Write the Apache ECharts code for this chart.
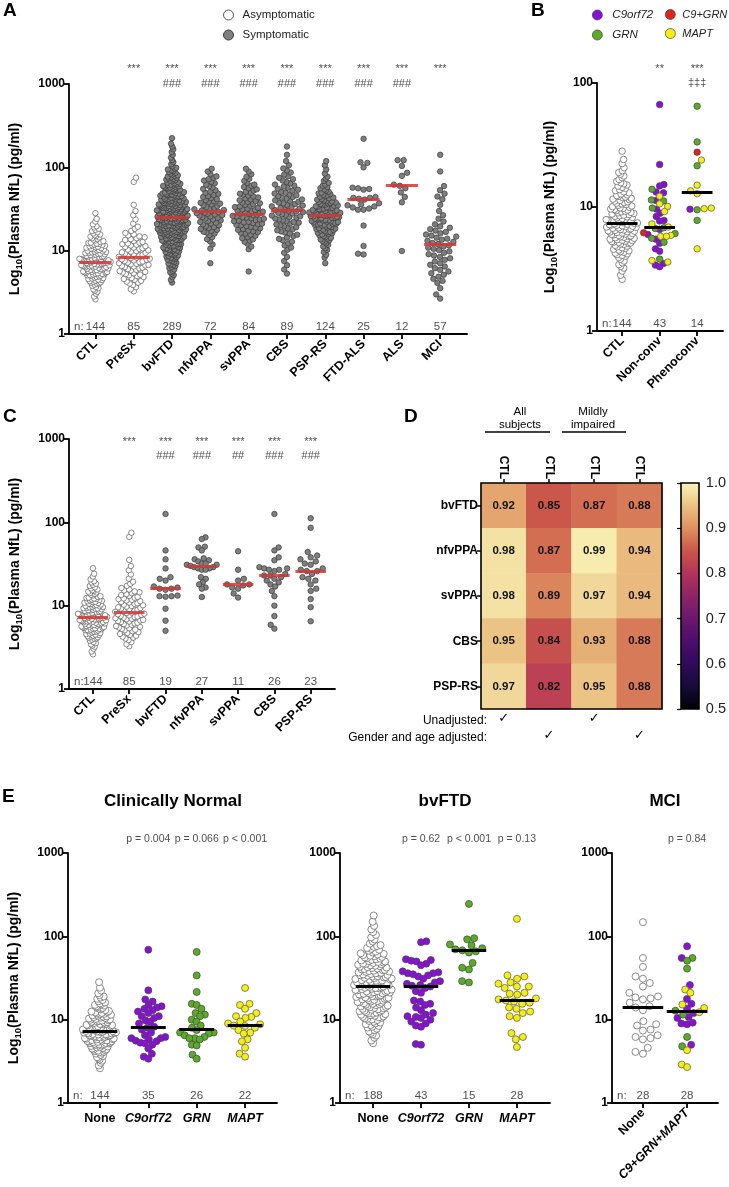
<!DOCTYPE html>
<html><head><meta charset="utf-8">
<script src="https://cdn.jsdelivr.net/npm/echarts@6/dist/echarts.min.js"></script>
<style>html,body{margin:0;padding:0;background:#fff}#c{width:729px;height:1187px}</style>
</head><body><div id="c"></div>
<script>
// ================= DATA =================
// Large groups are given as counts per log10 bin (bin k covers log10 0.4+0.1k .. 0.5+0.1k), read from the swarms.
const HIST_LOG_START = 0.4, HIST_LOG_STEP = 0.1;
const ctlHist    = [3,7,16,26,30,22,18,11,7,3,1];
const presxHist  = [0,4,9,12,15,13,12,9,4,2,2,1,0,0,2];
const bvftdHist  = [0,0,3,6,10,15,20,25,32,33,34,30,26,20,14,10,4,3,3,1];
const nfvppaHist = [0,0,0,0,1,0,2,4,9,10,13,10,8,6,6,3];
const svppaHist  = [0,0,0,1,0,0,3,7,11,14,14,11,9,7,4,3];
const cbsHist    = [0,0,0,2,2,2,4,6,8,10,12,11,10,8,6,4,2,1,1];
const psprsHist  = [0,0,0,0,1,3,5,10,16,22,23,17,12,7,4,2,2];
const mciHist    = [2,1,4,5,5,6,7,8,6,3,2,1,3,2,0,1,0,1];
const ftdalsVals = [220,115,113,100,57,56,55,54,44,43,43,42,41,37,36,35,34,33,32,31,31,20,11.4,9.2,9.0];
const alsVals    = [122,122,104,86,79,62,60,56,50,44,38,9.9];

const aCats  = ['CTL','PreSx','bvFTD','nfvPPA','svPPA','CBS','PSP-RS','FTD-ALS','ALS','MCI'];
const aN     = [144,85,289,72,84,89,124,25,12,57];
const aStars = ['','***','***','***','***','***','***','***','***','***'];
const aHash  = ['','','###','###','###','###','###','###','###',''];

// Panel B
const bCats = ['CTL','Non-conv','Phenoconv'];
const bN = [144,43,14];
const bStars = ['','**','***'];
const bDagger = ['','','‡‡‡'];
const nonconvVals = [67,22,15.2,14.8,13.9,13.2,13.0,12.2,11.4,11.2,11.3,10.6,10.1,9.8,9.6,9.2,8.9,8.4,7.8,7.7,7.3,6.9,6.8,6.7,6.6,6.2,6.1,6.0,5.9,5.8,5.8,5.6,5.5,5.2,5.1,4.6,4.4,3.8,3.7,3.6,3.5,3.4,3.3];
const nonconvGenes = 'CCCCGCCMGGCMMGCMCCCCMMGGCRGCMMMGCGCCCGMMCCC';
const phenoVals = [65,33.5,27.7,23.9,21.5,15,13.5,12.8,9.8,9.7,9.6,9.5,7.8,4.6];
const phenoGenes = 'GGRMGMMMMMCGGM';

// Panel C
const cCats = ['CTL','PreSx','bvFTD','nfvPPA','svPPA','CBS','PSP-RS'];
const cN = [144,85,19,27,11,26,23];
const cStars = ['','***','***','***','***','***','***'];
const cHash = ['','','###','###','##','###','###'];
const cBvftd  = [126,46,36,28,22,21,20,17,16.5,16,16,15.5,13.2,13,13,12.8,9.2,6.6,5.0];
const cNfvppa = [66,63,51,50,46,37,36,35,34,32,32,31,31,30,29,29,28,28,27,27,22,21,19,18,16.5,16,12.7];
const cSvppa  = [45,27,21,20,18,18,17.5,16.5,16,14,12.5];
const cCbs    = [126,50,46,38,35,29,28,28,27,27,26,24,23,23,22,21,20,19,18,17,15,13,10,7.5,5.9,5.3];
const cPsprs  = [112,86,44,40,38,36,34,32,31,28,27,26,26,24,22,21,20,18,16,15,12,9.6,6.5];

// Panel D
const dRows = ['bvFTD','nfvPPA','svPPA','CBS','PSP-RS'];
const dCols = ['CTL','CTL','CTL','CTL'];
const dValues = [[0.92,0.85,0.87,0.88],[0.98,0.87,0.99,0.94],[0.98,0.89,0.97,0.94],[0.95,0.84,0.93,0.88],[0.97,0.82,0.95,0.88]];
const dUnadjusted = [true,false,true,false];
const dAdjusted = [false,true,false,true];

// Panel E
const eCats = ['None','C9orf72','GRN','MAPT'];
const e1N = [144,35,26,22];
const e1P = ['','p = 0.004','p = 0.066','p < 0.001'];
const e1C9  = [69,22.5,17.5,16.5,15,14.5,14,13.5,13,12.5,12,11,11,10.5,9.8,9.5,9,8.2,8,7.6,7,6.5,6.2,6,6,5.8,5.6,5.5,5.3,5.2,5,4.5,3.9,3.6,3.4];
const e1Grn = [65,34,21.5,15.5,15,13.5,12,11.5,11,10,9.5,8.5,8,7.5,7,7,6.8,6.5,6.2,6,6,5.8,5,4.9,3.8,3.4];
const e1Mapt= [24,15.5,15,13.5,12,11,10.8,10.5,9.5,9,8.8,8.5,8.4,8,7.5,7,6.8,5.8,5.5,4.6,3.9,3.6];
const e2N = [188,43,15,28];
const e2P = ['','p = 0.62','p < 0.001','p = 0.13'];
const e2NoneHist = [0,0,0,3,6,10,16,18,20,22,22,20,18,14,9,4,3,2,1];
const e2C9  = [87,85,53,52,51,50,47,45,38,37,36,36,35,34,33,31,29,28,27,26,25.5,25,24,22,21,17,16.5,15.5,15,14,13,12,11.5,11,10.8,10.5,10,9.5,9,8.5,8.2,5.1,5.0];
const e2Grn = [245,95,92,80,78,72,70,68,66,64,48,42,40,29,28];
const e2Mapt= [162,34,33,31,28,27,25,25,24,21,20.5,20,18,17.5,17,16.5,16,15.5,14,13.5,12.5,12,11,10.5,6.9,6.2,5.8,4.7];
const e3Cats = ['None','C9+GRN+MAPT'];
const e3N = [28,28];
const e3P = ['','p = 0.84'];
const e3None = [148,55,43,33,31,27.5,25,21,19,18.5,18,17.5,16,14.5,14,13,9.6,8.8,8.5,7.6,7.4,6.5,6.2,6.0,5.8,4.6,4.1,3.9];
const e3MutVals = [76,55,55,51,41,26,23,21,17.7,15.5,15.2,13.8,13.5,12.8,12.3,12,11.5,10.8,10.5,9.2,9,8.8,6.2,5.0,4.8,4.3,2.9,2.7];
const e3MutGenes = 'CCGGGCMMCCMMCGMCGCCCCCGCGMMM';

// ================= HELPERS =================
const FONT = '"Liberation Sans", Arial, Helvetica, sans-serif';
const NARROW = '"Liberation Sans Narrow", "Arial Narrow", "Liberation Sans", sans-serif';
function fromHist(h){
  const out=[];
  h.forEach((c,k)=>{for(let j=0;j<c;j++) out.push(Math.pow(10, HIST_LOG_START+HIST_LOG_STEP*k+HIST_LOG_STEP*(j+0.5)/c));});
  return out;
}
function median(a){const s=[...a].sort((x,y)=>x-y);const n=s.length;return n%2?s[(n-1)/2]:(s[n/2-1]+s[n/2])/2;}
function swarm(vals, ppd, d, maxHalf){
  const n=vals.length, order=vals.map((v,i)=>i).sort((a,b)=>vals[a]-vals[b]);
  const placed=[], xs=new Array(n); let flip=1;
  for(const i of order){
    const y=Math.log10(vals[i])*ppd;
    const near=placed.filter(p=>Math.abs(p.y-y)<d);
    const cands=[0];
    for(const p of near){const dx=Math.sqrt(d*d-(p.y-y)*(p.y-y)); cands.push(p.x+dx,p.x-dx);}
    cands.sort((a,b)=>(Math.abs(a)-Math.abs(b))||(flip*(b-a)));
    let x=0;
    for(const c of cands){ if(near.every(p=>(p.x-c)*(p.x-c)+(p.y-y)*(p.y-y)>=d*d-1e-6)){x=c;break;} }
    flip=-flip; placed.push({x,y}); xs[i]=x;
  }
  const m=Math.max(0.0001,...xs.map(Math.abs)); const s=m>maxHalf?maxHalf/m:1;
  return xs.map(x=>x*s);
}
const KIND = {
  open:{name:'Asymptomatic', color:'#ffffff', border:'#5a5a5a'},
  gray:{name:'Symptomatic', color:'#7f7f7f', border:'#3a3a3a'},
  C:{name:'C9orf72', color:'#8a0fd8', border:'#444'},
  G:{name:'GRN', color:'#5aac26', border:'#444'},
  M:{name:'MAPT', color:'#f5ef10', border:'#555'},
  R:{name:'C9+GRN', color:'#e0231c', border:'#444'}
};

const grids=[], xAxes=[], yAxes=[], series=[], graphics=[];
const AX = {color:'#000', width:1.8};

function textSeries(gi, items, fs, dy, opts){
  opts=opts||{};
  return {type:'scatter', xAxisIndex:gi, yAxisIndex:gi, symbolSize:0.001, silent:true, z:10,
    itemStyle:{color:'rgba(0,0,0,0)'}, animation:false,
    label:{show:true, position:'inside', offset:[opts.dx||0,dy], formatter:p=>p.data.t, fontSize:fs,
      fontFamily:FONT, color:opts.color||'#222', fontWeight:opts.weight||'normal', align:opts.align||'center'},
    data:items.filter(it=>it[2]!=='').map(([x,y,t])=>({value:[x,y],t}))};
}

function buildPanel(P){
  const gi=grids.length;
  grids.push({left:P.left, top:P.top, width:P.width, height:P.height});
  const idx=P.cats.map((_,i)=>i);
  xAxes.push({gridIndex:gi, type:'value', min:P.xmin, max:P.xmax, splitLine:{show:false},
    axisLine:{onZero:false, lineStyle:AX},
    axisTick:{customValues:idx, length:5, lineStyle:AX},
    axisLabel:{customValues:idx, rotate:P.rot, margin:P.labMargin, interval:0,
      formatter:v=>{const i=Math.round(v);const t=P.cats[i];return (P.italic&&P.italic[i]?'{i|':'{b|')+t+'}';},
      rich:{b:{fontFamily:FONT,fontWeight:'bold',fontSize:12.5,color:'#000'},
            i:{fontFamily:FONT,fontWeight:'bold',fontStyle:'italic',fontSize:12.5,color:'#000'}}}});
  const y={gridIndex:gi, type:'log', logBase:10, min:1, max:P.ymax, splitLine:{show:false},
    axisLine:{onZero:false, lineStyle:AX}, axisTick:{length:5, lineStyle:AX}, minorTick:{show:false},
    axisLabel:{fontFamily:FONT, fontWeight:'bold', fontSize:12, color:'#000', margin:4, formatter:v=>String(Math.round(v))}};
  if(P.yName){
    Object.assign(y,{name:'{a|Log}{s|10}{a|(Plasma NfL) (pg/ml)}', nameLocation:'middle', nameGap:P.nameGap, nameRotate:90,
      nameTextStyle:{rich:{a:{fontFamily:FONT,fontWeight:'bold',fontSize:14,color:'#000',lineHeight:18},
                           s:{fontFamily:FONT,fontWeight:'bold',fontSize:9.5,color:'#000',lineHeight:10,verticalAlign:'bottom'}}}});
  }
  yAxes.push(y);
  const ppd=P.height/Math.log10(P.ymax), ppu=P.width/(P.xmax-P.xmin);
  const byKind={};
  P.groups.forEach((g,i)=>{
    const offs=swarm(g.vals, ppd, P.dot*1.1, P.half);
    g.vals.forEach((v,j)=>{
      const k=g.genes?g.genes[j]:g.kind;
      (byKind[k]=byKind[k]||[]).push([i+offs[j]/ppu, v]);
    });
  });
  Object.keys(byKind).forEach(k=>series.push({type:'scatter', name:KIND[k].name, xAxisIndex:gi, yAxisIndex:gi,
    symbolSize:P.dot, animation:false, z:2,
    itemStyle:{color:KIND[k].color, borderColor:KIND[k].border, borderWidth:0.7, opacity:1}, data:byKind[k]}));
  series.push({type:'lines', coordinateSystem:'cartesian2d', xAxisIndex:gi, yAxisIndex:gi, z:5, silent:true, animation:false,
    lineStyle:{color:P.med.color, width:3, opacity:P.med.op},
    data:P.groups.map((g,i)=>{const m=median(g.vals);return {coords:[[i-P.med.half,m],[i+P.med.half,m]]};})});
  // n labels
  series.push(textSeries(gi, P.n.map((n,i)=>[i,1,String(n)]), 11.5, -7));
  series.push(textSeries(gi, [[P.xmin+5/ppu,1,'n:']], 11.5, -7, {align:'left'}));
  (P.rows||[]).forEach(r=>series.push(textSeries(gi, r.texts.map((t,i)=>[i,P.ymax,t]), r.fs, r.dy)));
}

const RED={color:'#da3430', half:0.42, op:0.85};
// ---- Panel A
buildPanel({left:69, top:84, width:398, height:250, xmin:-0.69, xmax:9.70, ymax:1000, dot:5.5, half:16,
  rot:45, labMargin:8, yName:true, nameGap:45, cats:aCats, n:aN,
  groups:[{vals:fromHist(ctlHist),kind:'open'},{vals:fromHist(presxHist),kind:'open'},{vals:fromHist(bvftdHist),kind:'gray'},
    {vals:fromHist(nfvppaHist),kind:'gray'},{vals:fromHist(svppaHist),kind:'gray'},{vals:fromHist(cbsHist),kind:'gray'},
    {vals:fromHist(psprsHist),kind:'gray'},{vals:ftdalsVals,kind:'gray'},{vals:alsVals,kind:'gray'},{vals:fromHist(mciHist),kind:'gray'}],
  rows:[{texts:aStars,fs:11,dy:-15},{texts:aHash,fs:11,dy:0}], med:RED});
// ---- Panel B
buildPanel({left:597, top:83, width:126, height:248, xmin:-0.67, xmax:2.69, ymax:100, dot:6.5, half:16,
  rot:45, labMargin:8, yName:true, nameGap:38, cats:bCats, n:bN,
  groups:[{vals:fromHist(ctlHist),kind:'open'},{vals:nonconvVals,genes:nonconvGenes},{vals:phenoVals,genes:phenoGenes}],
  rows:[{texts:bStars,fs:11,dy:-14},{texts:bDagger,fs:11,dy:0}], med:{color:'#000',half:0.41,op:1}});
// ---- Panel C
buildPanel({left:69, top:439, width:266, height:250, xmin:-0.66, xmax:6.67, ymax:1000, dot:5.5, half:15,
  rot:45, labMargin:8, yName:true, nameGap:45, cats:cCats, n:cN,
  groups:[{vals:fromHist(ctlHist),kind:'open'},{vals:fromHist(presxHist),kind:'open'},{vals:cBvftd,kind:'gray'},
    {vals:cNfvppa,kind:'gray'},{vals:cSvppa,kind:'gray'},{vals:cCbs,kind:'gray'},{vals:cPsprs,kind:'gray'}],
  rows:[{texts:cStars,fs:11,dy:3},{texts:cHash,fs:11,dy:17}], med:RED});
// ---- Panel E
const BLK={color:'#000',half:0.36,op:1};
buildPanel({left:68, top:853, width:209, height:250, xmin:-0.66, xmax:3.66, ymax:1000, dot:7, half:17,
  rot:0, labMargin:9, yName:true, nameGap:45, cats:eCats, italic:[false,true,true,true], n:e1N,
  groups:[{vals:fromHist(ctlHist),kind:'open'},{vals:e1C9,kind:'C'},{vals:e1Grn,kind:'G'},{vals:e1Mapt,kind:'M'}],
  rows:[{texts:e1P,fs:10.5,dy:-14}], med:BLK});
buildPanel({left:340, top:853, width:210, height:250, xmin:-0.69, xmax:3.69, ymax:1000, dot:7, half:19,
  rot:0, labMargin:9, yName:false, cats:eCats, italic:[false,true,true,true], n:e2N,
  groups:[{vals:fromHist(e2NoneHist),kind:'open'},{vals:e2C9,kind:'C'},{vals:e2Grn,kind:'G'},{vals:e2Mapt,kind:'M'}],
  rows:[{texts:e2P,fs:10.5,dy:-14}], med:BLK});
buildPanel({left:612, top:853, width:106, height:250, xmin:-0.70, xmax:1.70, ymax:1000, dot:7, half:17,
  rot:45, labMargin:8, yName:false, cats:e3Cats, italic:[false,true], n:e3N,
  groups:[{vals:e3None,kind:'open'},{vals:e3MutVals,genes:e3MutGenes}],
  rows:[{texts:e3P,fs:10.5,dy:-14}], med:{color:'#000',half:0.46,op:1}});

// ---- Panel D heatmap
const D={left:481, top:483, width:181, height:226};
const dGi=grids.length;
grids.push({left:D.left, top:D.top, width:D.width, height:D.height});
xAxes.push({gridIndex:dGi, type:'category', position:'top', data:dCols.map((c,i)=>c+'#'+i),
  axisLine:{show:false}, axisTick:{show:true, alignWithLabel:true, length:4, lineStyle:{color:'#000',width:1.5}},
  axisLabel:{rotate:90, margin:4, formatter:v=>v.split('#')[0], fontFamily:FONT, fontWeight:'bold', fontSize:12, color:'#000'}, splitLine:{show:false}});
yAxes.push({gridIndex:dGi, type:'category', inverse:true, data:dRows,
  axisLine:{show:false}, axisTick:{show:true, alignWithLabel:true, length:4, lineStyle:{color:'#000',width:1.5}},
  axisLabel:{margin:3, fontFamily:FONT, fontWeight:'bold', fontSize:12, color:'#000'}, splitLine:{show:false}});
const hmData=[]; dValues.forEach((row,r)=>row.forEach((v,c)=>hmData.push([c,r,v])));
const HM_COLORS=['#000000','#160b39','#2f0a5b','#4d0d6c','#6b176e','#8e2466','#b4335a','#cb574b','#df9160','#ebc385','#faf6b8'];
series.push({type:'heatmap', xAxisIndex:dGi, yAxisIndex:dGi, data:hmData, animation:false,
  label:{show:true, formatter:p=>p.value[2].toFixed(2), fontFamily:NARROW, fontWeight:'bold', fontSize:11.5, color:'#111'},
  itemStyle:{borderWidth:0}});
// colorbar axis
const CB={left:681, top:483, width:18, height:226};
const cbGi=grids.length;
grids.push({left:CB.left, top:CB.top, width:CB.width, height:CB.height});
xAxes.push({gridIndex:cbGi, type:'value', show:false, min:0, max:1});
yAxes.push({gridIndex:cbGi, type:'value', position:'right', min:0.5, max:1.0, interval:0.1, splitLine:{show:false},
  axisLine:{show:false}, axisTick:{show:true, inside:true, length:4, lineStyle:{color:'#000',width:1.2}},
  axisLabel:{margin:7, formatter:v=>v.toFixed(1), fontFamily:FONT, fontSize:14.5, color:'#222'}});

// ---- graphics (labels / decorations)
function txt(text,x,y,font,align,valign,fill){return {type:'text', silent:true, z:50, style:{text,x,y,font,fill:fill||'#000',
  textAlign:align||'left', align:align||'left', textVerticalAlign:valign||'middle', verticalAlign:valign||'middle'}};}
const LET='bold 19px '+FONT;
graphics.push(txt('A',3,11,LET), txt('B',531,11,LET), txt('C',3,417,LET), txt('D',404,417,LET), txt('E',2,797,LET));
const TTL='bold 17px '+FONT;
graphics.push(txt('Clinically Normal',173,801,TTL,'center'), txt('bvFTD',445,801,TTL,'center'), txt('MCI',665,801,TTL,'center'));
const SM='11.5px '+FONT;
graphics.push(txt('All',520,412,SM,'center'), txt('subjects',520,425,SM,'center'),
  txt('Mildly',593,412,SM,'center'), txt('impaired',593,425,SM,'center'));
graphics.push({type:'line', silent:true, shape:{x1:485,y1:432,x2:550,y2:432}, style:{stroke:'#000',lineWidth:1.5}});
graphics.push({type:'line', silent:true, shape:{x1:562,y1:432,x2:626,y2:432}, style:{stroke:'#000',lineWidth:1.5}});
const colW=D.width/dCols.length;
graphics.push(txt('Unadjusted:',487,721,'12px '+FONT,'right'), txt('Gender and age adjusted:',487,738,'12px '+FONT,'right'));
dUnadjusted.forEach((b,i)=>{ if(b) graphics.push(txt('✓',D.left+colW*(i+0.5),719,'13px "DejaVu Sans"','center')); });
dAdjusted.forEach((b,i)=>{ if(b) graphics.push(txt('✓',D.left+colW*(i+0.5),736,'13px "DejaVu Sans"','center')); });
graphics.push({type:'rect', silent:true, z:60, shape:{x:D.left,y:D.top,width:D.width,height:D.height}, style:{fill:'none',stroke:'#000',lineWidth:1.6}});
const stops=HM_COLORS.map((c,i)=>({offset:1-i/(HM_COLORS.length-1), color:c})).reverse();
graphics.push({type:'rect', silent:true, z:1, shape:{x:CB.left,y:CB.top,width:CB.width,height:CB.height},
  style:{fill:new echarts.graphic.LinearGradient(0,0,0,1,stops), stroke:'#000', lineWidth:1.6}});

const option={
  animation:false, backgroundColor:'#fff',
  grid:grids, xAxis:xAxes, yAxis:yAxes, series,
  visualMap:[{show:false, type:'continuous', min:0.5, max:1.0, seriesIndex:series.findIndex(s=>s.type==='heatmap'), inRange:{color:HM_COLORS}}],
  legend:[
    {orient:'vertical', left:218, top:4, itemWidth:10, itemHeight:10, itemGap:8, icon:'circle', selectedMode:false,
      textStyle:{fontFamily:FONT, fontSize:11.5, color:'#222', padding:[0,0,0,4]},
      data:[{name:'Asymptomatic', itemStyle:{color:'#fff',borderColor:'#5a5a5a',borderWidth:1}},
            {name:'Symptomatic', itemStyle:{color:'#7f7f7f',borderColor:'#3a3a3a',borderWidth:1}}]},
    {orient:'vertical', left:587, top:4, itemWidth:10, itemHeight:10, itemGap:8, icon:'circle', selectedMode:false,
      textStyle:{fontFamily:FONT, fontSize:11.5, fontStyle:'italic', color:'#222', padding:[0,0,0,5]},
      data:[{name:'C9orf72', itemStyle:{color:KIND.C.color,borderColor:'#444',borderWidth:0.7}},
            {name:'GRN', itemStyle:{color:KIND.G.color,borderColor:'#444',borderWidth:0.7}}]},
    {orient:'vertical', left:660, top:4, itemWidth:10, itemHeight:10, itemGap:8, icon:'circle', selectedMode:false,
      textStyle:{fontFamily:FONT, fontSize:11, fontStyle:'italic', color:'#222', padding:[0,0,0,2]},
      data:[{name:'C9+GRN', itemStyle:{color:KIND.R.color,borderColor:'#444',borderWidth:0.7}},
            {name:'MAPT', itemStyle:{color:KIND.M.color,borderColor:'#444',borderWidth:0.7}}]}
  ],
  graphic:graphics
};
const chart=echarts.init(document.getElementById('c'), null, {renderer:'canvas', width:729, height:1187});
chart.setOption(option);
</script></body></html>
